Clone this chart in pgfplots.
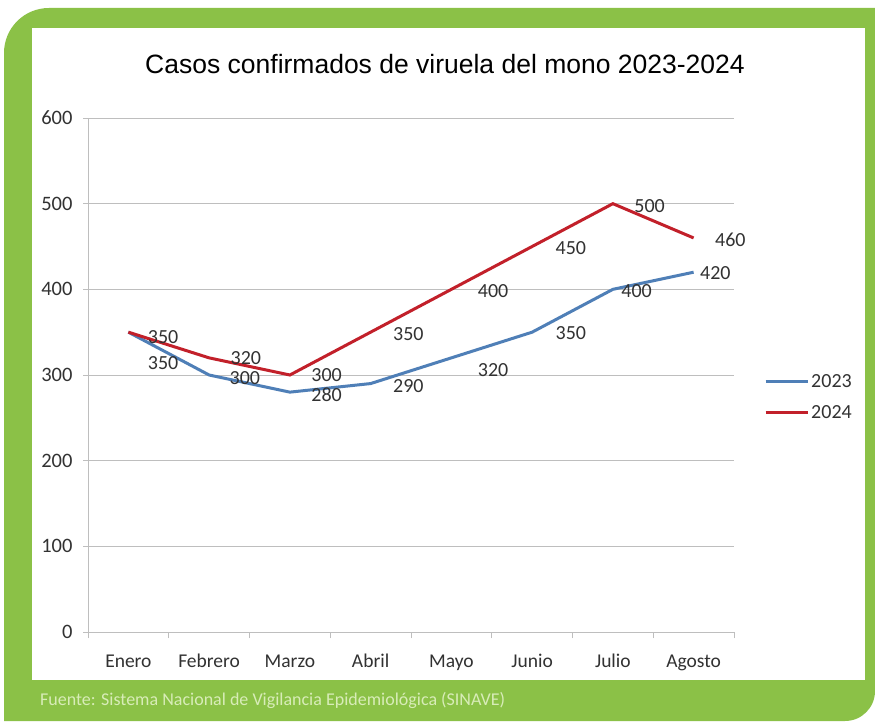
\documentclass[border=0pt]{standalone}
\usepackage{pgfplots}
\pgfplotsset{compat=1.18}
\usepackage{pgfplotstable}
\usepackage{fontspec}
\setmainfont{Carlito}
\newfontfamily\arial{Liberation Sans}
\definecolor{bg}{RGB}{139,193,71}
\definecolor{foot}{RGB}{216,236,184}
\definecolor{sblue}{RGB}{79,127,183}
\definecolor{sred}{RGB}{194,32,42}
\definecolor{gridc}{RGB}{190,190,190}
\definecolor{txt}{RGB}{50,50,50}

\pgfplotstableread{
x y dx dy lab
0.5 350 18 -31 350
1.5 300 19 -3 300
2.5 280 20 -3 280
3.5 290 21 -3 290
4.5 320 25 -12 320
5.5 350 22 -1 350
6.5 400 7 -2 400
7.5 420 5 -1 420
}\tabA
\pgfplotstableread{
x y dx dy lab
0.5 350 18 -5 350
1.5 320 20 0 320
2.5 300 20 0 300
3.5 350 21 -2 350
4.5 400 25 -2 400
5.5 450 22 -2 450
6.5 500 20 -2 500
7.5 460 20 -2 460
}\tabB

\begin{document}
\begin{tikzpicture}[x=1pt,y=1pt]
\fill[white] (0,0) rectangle (875,721);
\fill[bg] (4,0) -- (845,0) to[out=0,in=-90] (875,30) -- (875,713) -- (49,713) to[out=180,in=90] (4,668) -- cycle;
\fill[white] (32,41) rectangle (865,693);
\node[anchor=base, font=\arial\fontsize{26.5}{30}\selectfont, text=black, inner sep=0pt] at (445,647) {Casos confirmados de viruela del mono 2023-2024};
\node[anchor=base west, text=foot, font=\fontsize{18}{20}\selectfont, inner sep=0pt] at (40,15.5) {Fuente: Sistema Nacional de Vigilancia Epidemiológica (SINAVE)};
\begin{axis}[
  at={(88pt,89pt)}, anchor=south west,
  scale only axis, width=646pt, height=514pt,
  xmin=0, xmax=8, ymin=0, ymax=600,
  axis lines*=left,
  axis line style={draw=gridc, line width=1pt},
  ytick={0,100,...,600},
  ymajorgrids, grid style={draw=gridc, line width=1pt},
  xtick={0.5,1.5,...,7.5},
  xticklabels={Enero,Febrero,Marzo,Abril,Mayo,Junio,Julio,Agosto},
  minor xtick={0,1,...,8},
  tick align=outside,
  major tick length=5pt, minor tick length=6pt,
  x tick style={draw=none},
  minor x tick style={draw=gridc, line width=1pt},
  y tick style={draw=gridc, line width=1pt},
  xticklabel style={font=\fontsize{19.5}{22}\selectfont, text=txt, anchor=base, yshift=-30pt},
  yticklabel style={font=\fontsize{20.5}{22}\selectfont, text=txt, anchor=east, xshift=-7pt},
  /pgf/number format/assume math mode=true,
  clip=false,
  legend style={draw=none, fill=none, at={(1.0465,0.457)}, anchor=west,
    font=\fontsize{20}{22}\selectfont, text=txt, row sep=12pt,
    inner sep=0pt, nodes={inner sep=2pt}},
  legend cell align=left,
  legend image code/.code={\draw[#1] (0pt,0pt) -- (42pt,0pt);},
  every node near coord/.append style={font=\fontsize{20}{22}\selectfont, text=txt, anchor=west, inner sep=0pt, xshift=\dx pt, yshift=\dy pt},
]
\addplot[sblue, line width=3pt, nodes near coords, point meta=explicit symbolic,
  visualization depends on={\thisrow{dx}\as\dx}, visualization depends on={\thisrow{dy}\as\dy}]
  table[x=x, y=y, meta=lab] {\tabA};
\addlegendentry{2023}
\addplot[sred, line width=3pt, nodes near coords, point meta=explicit symbolic,
  visualization depends on={\thisrow{dx}\as\dx}, visualization depends on={\thisrow{dy}\as\dy}]
  table[x=x, y=y, meta=lab] {\tabB};
\addlegendentry{2024}
\end{axis}
\end{tikzpicture}
\end{document}
